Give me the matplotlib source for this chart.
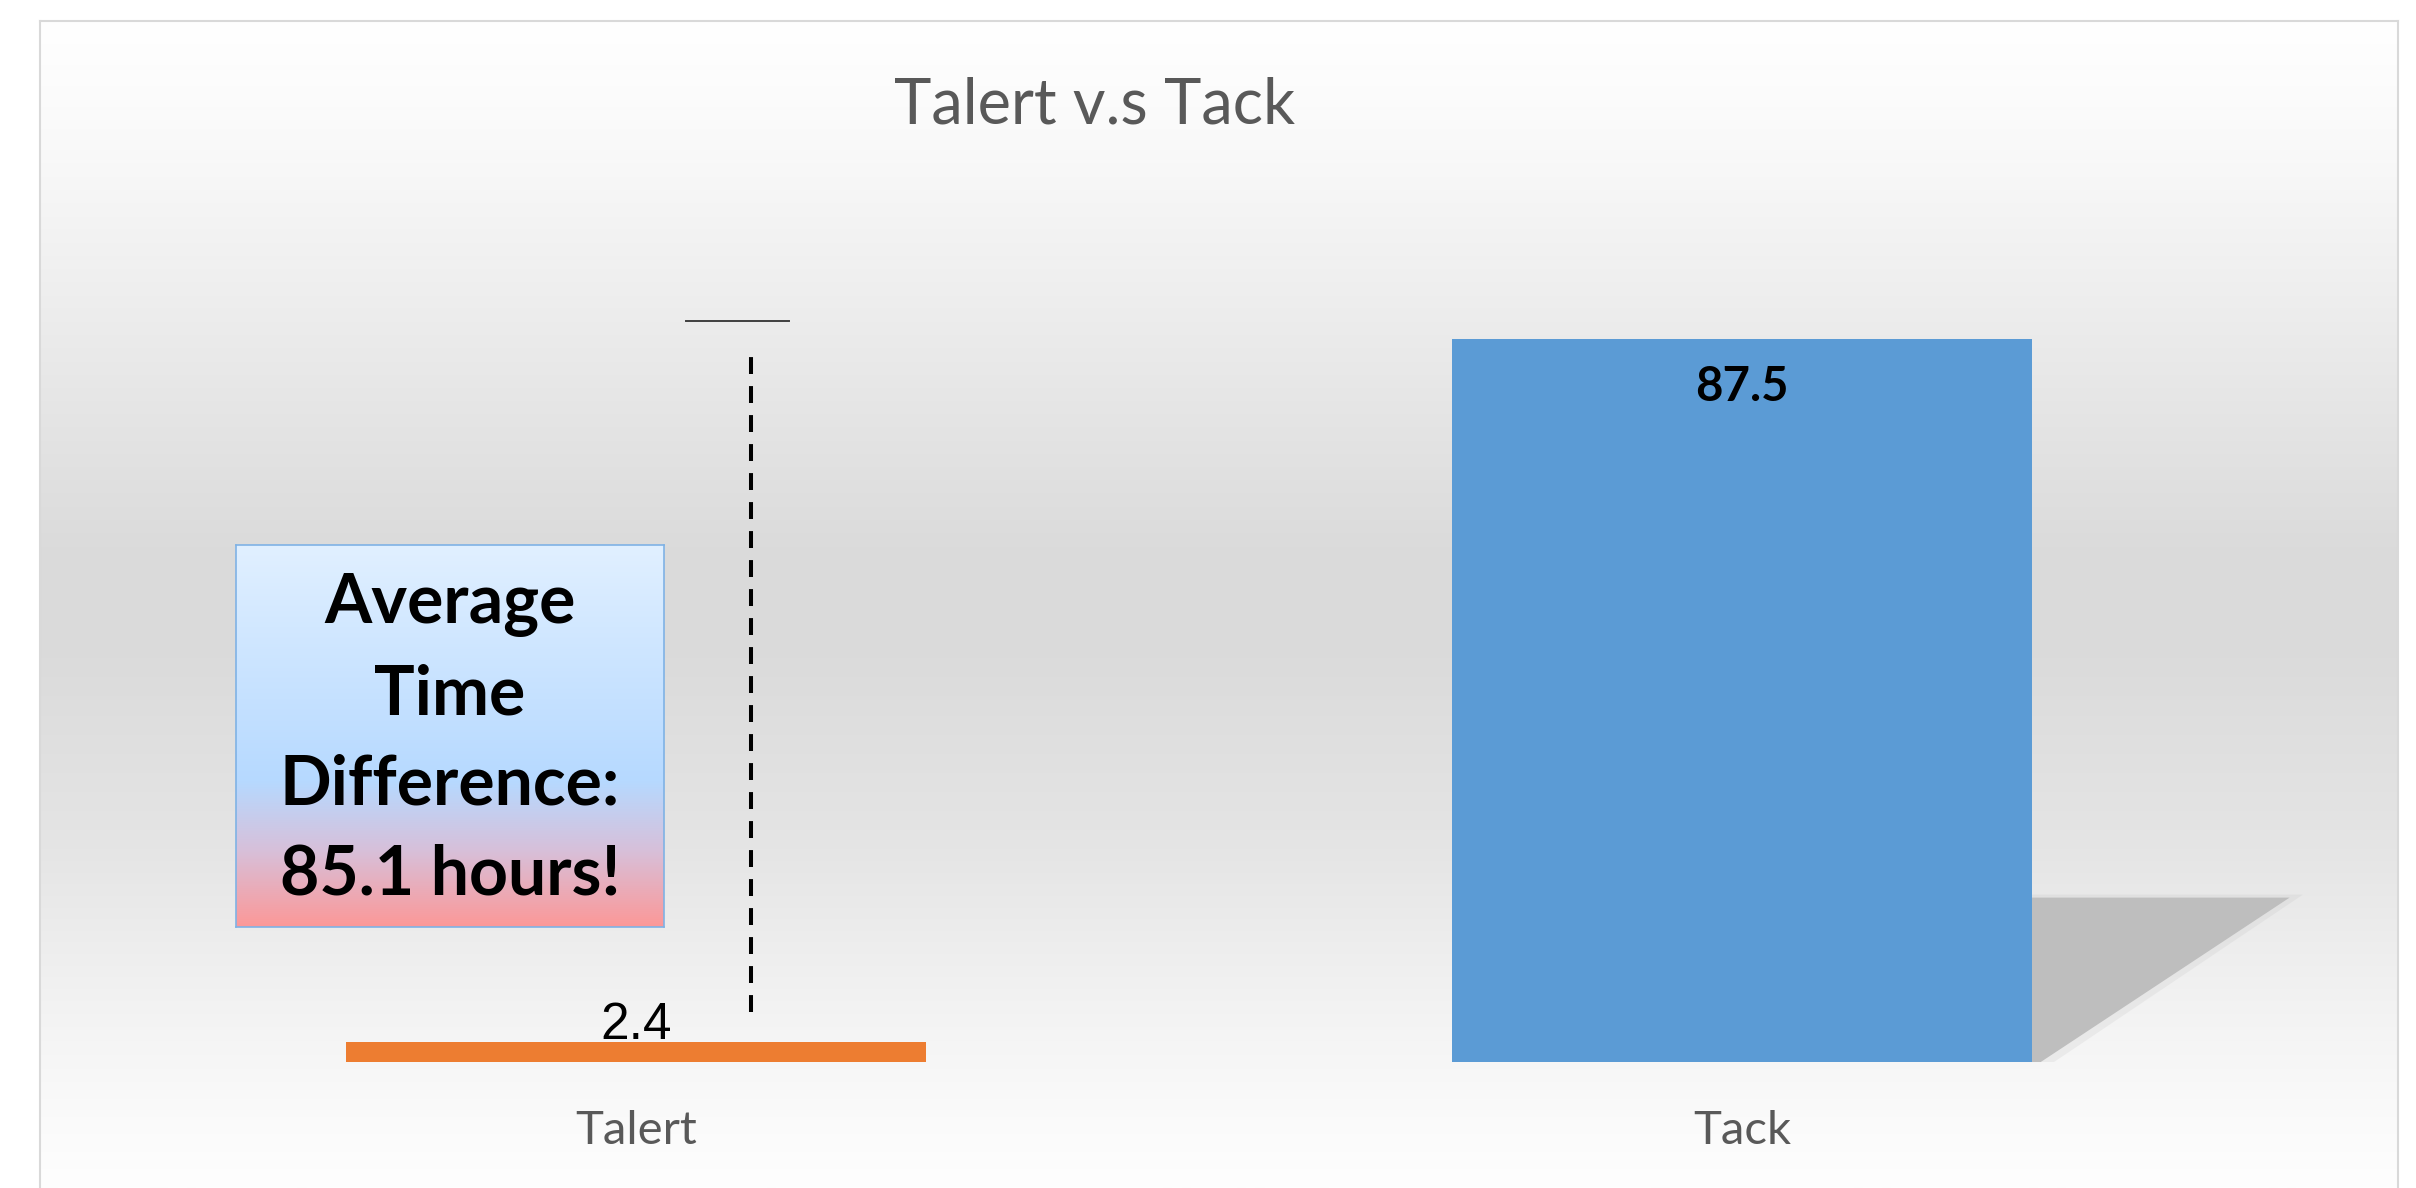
import numpy as np
import matplotlib.pyplot as plt
from matplotlib.patches import Polygon

categories = ["Talert", "Tack"]
values = [2.4, 87.5]
bar_colors = ["#ED7D31", "#5B9BD5"]
title = "Talert v.s Tack"

diff = values[1] - values[0]

W, H = 2416, 1188
fig = plt.figure(figsize=(W / 100, H / 100), dpi=100)
ax = fig.add_axes([40 / W, 0, 2358 / W, 1167 / H])

x = np.arange(len(categories))
xlim = (-0.539, 1.593)
ylim = (-15.25, 126.0)

# chart background: white -> gray -> white vertical gradient
pos = [0, 0.11, 0.28, 0.45, 0.53, 0.71, 0.84, 0.91, 1.0]
lev = [255, 249, 234, 219, 218, 229, 242, 248, 254]
t = np.linspace(0, 1, 500)
g = np.interp(t, pos, lev) / 255
bg = np.dstack([g, g, g]).reshape(-1, 1, 3)
ax.imshow(bg, extent=[xlim[0], xlim[1], ylim[0], ylim[1]], aspect="auto", zorder=0)

# soft shadow behind the Tack bar
bw = 0.524
right = x[1] + bw / 2
for grow, a in [(0.006, 0.2), (0.0, 1.0)]:
    sh = Polygon([(right - 0.01, 19.9 + grow * 60), (x[1] + 0.495 + grow * 2, 19.9 + grow * 60),
                  (right + 0.008 + grow * 2, 0), (right - 0.01, 0)],
                 closed=True, color="#BEBEBE", alpha=a, lw=0, zorder=2)
    ax.add_patch(sh)

ax.bar(x, values, width=bw, color=bar_colors, zorder=3)

ax.annotate(f"{values[0]}", (x[0], values[0]), xytext=(0, 2), textcoords="offset points",
            ha="center", va="baseline", fontsize=37, family="Liberation Sans", color="black", zorder=5)
ax.annotate(f"{values[1]}", (x[1], values[1]), xytext=(0, -34.6), textcoords="offset points",
            ha="center", va="center", fontsize=34, family="Lato", fontweight="bold", color="black", zorder=5)

for xi, cat in zip(x, categories):
    ax.text(xi, -8.35, cat, ha="center", va="center", fontsize=34, family="Lato", color="#595959")

# difference marker lines
ax.plot([0.104, 0.104], [values[0] + 3.65, values[1] - 1.4], color="black", lw=2.9,
        linestyle=(0, (4.2, 3.0)), zorder=4)
ax.plot([0.045, 0.138], [values[1] + 2.2, values[1] + 2.2], color="#404040", lw=1.4, zorder=4)

ax.set_xlim(*xlim)
ax.set_ylim(*ylim)
ax.set_xticks([])
ax.set_yticks([])
for s in ["left", "right", "top"]:
    ax.spines[s].set_color("#D9D9D9")
    ax.spines[s].set_linewidth(1.5)
ax.spines["bottom"].set_visible(False)

fig.text(1095 / W, 1 - 105 / H, title, ha="center", va="center", fontsize=45.5,
         family="Lato", fontweight="normal", color="#595959")

# callout box with blue -> pink gradient
bx = fig.add_axes([236 / W, 1 - 927 / H, 428 / W, 382 / H])
bpos = [0, 0.62, 0.8, 1.0]
bcols = np.array([[225, 240, 255], [182, 217, 255], [215, 192, 218], [252, 152, 152]]) / 255
tb = np.linspace(0, 1, 300)
box = np.stack([np.interp(tb, bpos, bcols[:, k]) for k in range(3)], axis=1).reshape(-1, 1, 3)
bx.imshow(box, extent=[0, 1, 0, 1], aspect="auto")
bx.set_xticks([])
bx.set_yticks([])
for s in bx.spines.values():
    s.set_color("#7FB2E5")
    s.set_linewidth(1.2)
bx.text(0.5, 0.49, f"Average\nTime\nDifference:\n{diff:.1f} hours!", transform=bx.transAxes,
        ha="center", va="center", fontsize=49, family="Lato", fontweight="bold",
        linespacing=1.53, color="black")

fig.savefig("out.png", dpi=100)
